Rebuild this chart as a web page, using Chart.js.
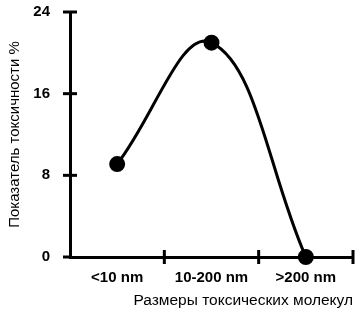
<!DOCTYPE html>
<html>
<head>
<meta charset="utf-8">
<script src="https://cdn.jsdelivr.net/npm/chart.js@4/dist/chart.umd.min.js"></script>
<style>
  html, body { margin: 0; padding: 0; background: #fff; }
  #wrap { width: 355px; height: 310px; }
</style>
</head>
<body>
<div id="wrap"><canvas id="toxChart"></canvas></div>
<script>
// Toxicity vs molecule size
const sizeLabels = ['<10 nm', '10-200 nm', '>200 nm'];
const toxicityValues = [9.1, 21, 0];
const yTickValues = [0, 8, 16, 24];

// draws axis ticks that cross the axis lines (both sides)
const crossTicks = {
  id: 'crossTicks',
  beforeDatasetsDraw(chart) {
    const ctx = chart.ctx;
    const xs = chart.scales.x;
    const ys = chart.scales.y;
    const left = chart.chartArea.left;
    const bottom = chart.chartArea.bottom;
    ctx.save();
    ctx.strokeStyle = '#000';
    ctx.lineWidth = 3;
    ctx.lineCap = 'butt';
    yTickValues.forEach(v => {
      const py = ys.getPixelForValue(v);
      ctx.beginPath();
      ctx.moveTo(left - 7, py);
      ctx.lineTo(v === 0 ? left : left + 7, py);
      ctx.stroke();
    });
    for (let i = 1; i <= sizeLabels.length; i++) {
      const px = xs.getPixelForValue(i - 0.5);
      ctx.beginPath();
      ctx.moveTo(px, bottom - 7);
      ctx.lineTo(px, bottom + 7);
      ctx.stroke();
    }
    ctx.restore();
  }
};

new Chart(document.getElementById('toxChart'), {
  type: 'line',
  data: {
    labels: sizeLabels,
    datasets: [{
      data: toxicityValues,
      borderColor: '#000',
      backgroundColor: '#000',
      borderWidth: 3,
      tension: 0.4,
      pointRadius: 6.5,
      pointHoverRadius: 6.5,
      pointBackgroundColor: '#000',
      clip: false
    }]
  },
  options: {
    responsive: true,
    maintainAspectRatio: false,
    animation: false,
    layout: { autoPadding: false, padding: { top: 12, right: 2, left: 0, bottom: 0 } },
    plugins: {
      legend: { display: false },
      tooltip: { enabled: false }
    },
    scales: {
      x: {
        offset: true,
        grid: { display: false, drawTicks: false },
        border: { display: true, width: 3, color: '#000' },
        ticks: {
          color: '#000',
          padding: 12,
          font: { family: 'Liberation Sans, Arial, sans-serif', size: 15, weight: 'bold' }
        },
        title: {
          display: true,
          text: 'Размеры токсических молекул',
          align: 'end',
          color: '#000',
          padding: { top: 2, bottom: 0 },
          font: { family: 'Liberation Sans, Arial, sans-serif', size: 15.5 }
        },
        afterFit(scale) {
          scale.height = 53;
          scale.paddingLeft = 0;
          scale.paddingRight = 0;
        }
      },
      y: {
        min: 0,
        max: 24,
        grid: { display: false, drawTicks: false },
        border: { display: true, width: 3, color: '#000' },
        ticks: {
          stepSize: 8,
          color: '#000',
          padding: 20,
          font: { family: 'Liberation Sans, Arial, sans-serif', size: 15, weight: 'bold' }
        },
        title: {
          display: true,
          text: 'Показатель токсичности %',
          color: '#000',
          padding: { top: 6, bottom: 0 },
          font: { family: 'Liberation Sans, Arial, sans-serif', size: 15 }
        },
        afterFit(scale) {
          scale.width = 70;
          scale.paddingTop = 0;
          scale.paddingBottom = 0;
        }
      }
    }
  },
  plugins: [crossTicks]
});
</script>
</body>
</html>
